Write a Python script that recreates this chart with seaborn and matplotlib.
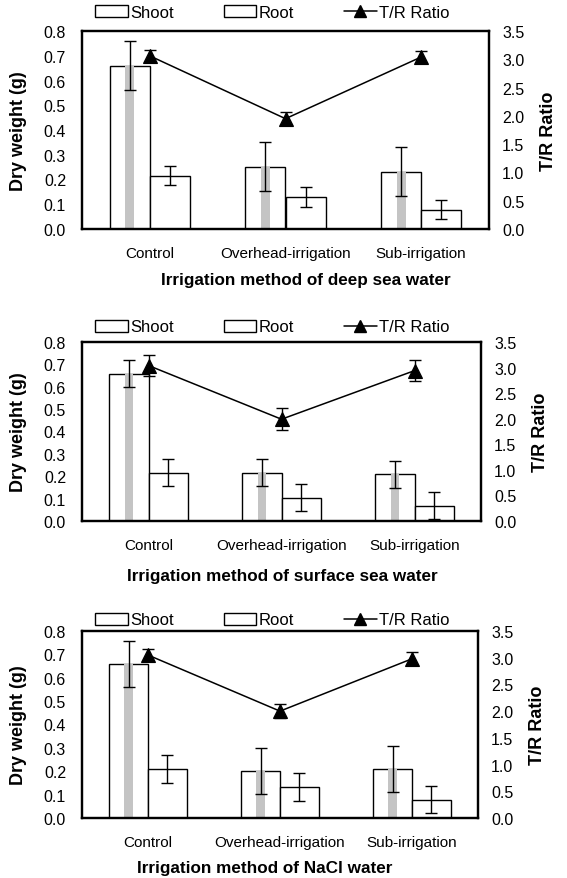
import numpy as np
import pandas as pd
import matplotlib
matplotlib.use("Agg")
import matplotlib.pyplot as plt
import seaborn as sns
from matplotlib.patches import Patch
from matplotlib.lines import Line2D

sns.set_style("white")
plt.rcParams['font.family'] = ['Liberation Sans', 'DejaVu Sans']
plt.rcParams['text.color'] = 'black'
plt.rcParams['axes.labelcolor'] = 'black'
plt.rcParams['xtick.color'] = 'black'
plt.rcParams['ytick.color'] = 'black'

categories = ["Control", "Overhead-irrigation", "Sub-irrigation"]
tick_labels_left = ["0.0", "0.1", "0.2", "0.3", "0.4", "0.5", "0.6", "0.7", "0.8"]
tick_labels_right = ["0.0", "0.5", "1.0", "1.5", "2.0", "2.5", "3.0", "3.5"]

xlabels = ["Irrigation method of deep sea water",
           "Irrigation method of surface sea water",
           "Irrigation method of NaCl water"]

shoot_deep = [0.66, 0.252, 0.232]
shoot_deep_err = [0.10, 0.10, 0.10]
root_deep = [0.215, 0.130, 0.078]
root_deep_err = [0.039, 0.041, 0.038]
tr_deep = [3.06, 1.95, 3.04]
tr_deep_err = [0.11, 0.11, 0.11]

shoot_surf = [0.659, 0.215, 0.209]
shoot_surf_err = [0.06, 0.06, 0.06]
root_surf = [0.215, 0.104, 0.069]
root_surf_err = [0.06, 0.06, 0.059]
tr_surf = [3.04, 1.99, 2.94]
tr_surf_err = [0.20, 0.22, 0.20]

shoot_nacl = [0.659, 0.201, 0.210]
shoot_nacl_err = [0.10, 0.10, 0.10]
root_nacl = [0.210, 0.132, 0.079]
root_nacl_err = [0.06, 0.06, 0.058]
tr_nacl = [3.05, 2.00, 2.98]
tr_nacl_err = [0.12, 0.13, 0.12]

panels = [
    (shoot_deep, shoot_deep_err, root_deep, root_deep_err, tr_deep, tr_deep_err),
    (shoot_surf, shoot_surf_err, root_surf, root_surf_err, tr_surf, tr_surf_err),
    (shoot_nacl, shoot_nacl_err, root_nacl, root_nacl_err, tr_nacl, tr_nacl_err),
]

W, H = 567, 879
fig = plt.figure(figsize=(W / 100, H / 100), dpi=100)

# axes boxes in pixels: left, top, right, bottom
boxes = [(82, 32, 489, 230), (82, 343, 481, 522), (82, 632, 478, 819)]
legend_y = [13, 328, 621]
# x-label centre (pixels) for each panel
xlabel_pos = [(306, 280), (282, 577), (265, 869)]

for i, (shoot, shoot_err, root, root_err, tr, tr_err) in enumerate(panels):
    l, t, r, b = boxes[i]
    ax = fig.add_axes([l / W, 1 - b / H, (r - l) / W, (b - t) / H])
    df = pd.DataFrame({
        "method": categories * 2,
        "weight": list(shoot) + list(root),
        "part": ["Shoot"] * 3 + ["Root"] * 3,
    })
    sns.barplot(data=df, x="method", y="weight", hue="part", order=categories,
                hue_order=["Shoot", "Root"], palette=["white", "white"],
                edgecolor="black", linewidth=1.0, width=0.59, errorbar=None,
                ax=ax, legend=False, zorder=2)
    shoot_cont, root_cont = ax.containers[0], ax.containers[1]
    sx = [p.get_x() + p.get_width() / 2 for p in shoot_cont]
    rx = [p.get_x() + p.get_width() / 2 for p in root_cont]
    sw = shoot_cont[0].get_width()
    # gray stippled strip inside the shoot bars
    ax.bar(sx, shoot, width=sw * 0.22, color="#c4c4c4", edgecolor="none", zorder=2.5)
    ax.errorbar(sx, shoot, yerr=shoot_err, fmt="none", ecolor="black",
                elinewidth=1.0, capsize=4, capthick=1.0, zorder=3)
    ax.errorbar(rx, root, yerr=root_err, fmt="none", ecolor="black",
                elinewidth=1.0, capsize=4, capthick=1.0, zorder=3)

    ax.set_ylim(0, 0.8)
    ax.set_yticks(np.arange(0, 0.81, 0.1))
    ax.set_yticklabels(tick_labels_left)
    ax.set_xlim(-0.5, 2.5)
    ax.tick_params(axis="both", length=0, labelsize=11.5, labelcolor="black")
    ax.tick_params(axis="x", labelsize=11, pad=12)
    ax.tick_params(axis="y", pad=11.5)
    ax.set_xlabel(xlabels[i], fontsize=12.3, fontweight="bold", color="black")
    xc, yc = xlabel_pos[i]
    ax.xaxis.set_label_coords((xc - l) / (r - l), (b - yc) / (b - t))
    ax.xaxis.label.set_verticalalignment("center")
    ax.set_ylabel("Dry weight (g)", fontsize=13, fontweight="bold", labelpad=12,
                  color="black")
    for s in ax.spines.values():
        s.set_linewidth(1.6)
        s.set_color("black")

    ax2 = ax.twinx()
    sns.pointplot(x=categories, y=tr, order=categories, ax=ax2, color="black",
                  markers="^", linestyles="-", errorbar=None,
                  markersize=10, linewidth=1.1)
    ax2.errorbar(range(3), tr, yerr=tr_err, fmt="none", ecolor="black",
                 elinewidth=1.0, capsize=4, capthick=1.0)
    ax2.set_ylim(0, 3.5)
    ax2.set_yticks(np.arange(0, 3.51, 0.5))
    ax2.set_yticklabels(tick_labels_right)
    ax2.set_xlim(-0.5, 2.5)
    ax2.tick_params(axis="y", length=0, labelsize=11.5, pad=9.5, labelcolor="black")
    ax2.set_ylabel("T/R Ratio", fontsize=13, fontweight="bold", labelpad=11,
                   color="black")
    ax2.set_xlabel("")
    for s in ax2.spines.values():
        s.set_linewidth(1.6)
        s.set_color("black")

    handles = [Patch(facecolor="white", edgecolor="black", linewidth=1.0),
               Patch(facecolor="white", edgecolor="black", linewidth=1.0),
               Line2D([], [], color="black", marker="^", markersize=9, linewidth=1.1)]
    leg = fig.legend(handles, ["Shoot", "Root", "T/R Ratio"], loc="center left",
                     bbox_to_anchor=(95 / W, 1 - legend_y[i] / H), ncol=3,
                     frameon=False, fontsize=12, handlelength=1.95,
                     handletextpad=0.15, columnspacing=3.0, borderaxespad=0,
                     borderpad=0)
    for txt in leg.get_texts():
        txt.set_color("black")

fig.savefig("out.png", dpi=100)
